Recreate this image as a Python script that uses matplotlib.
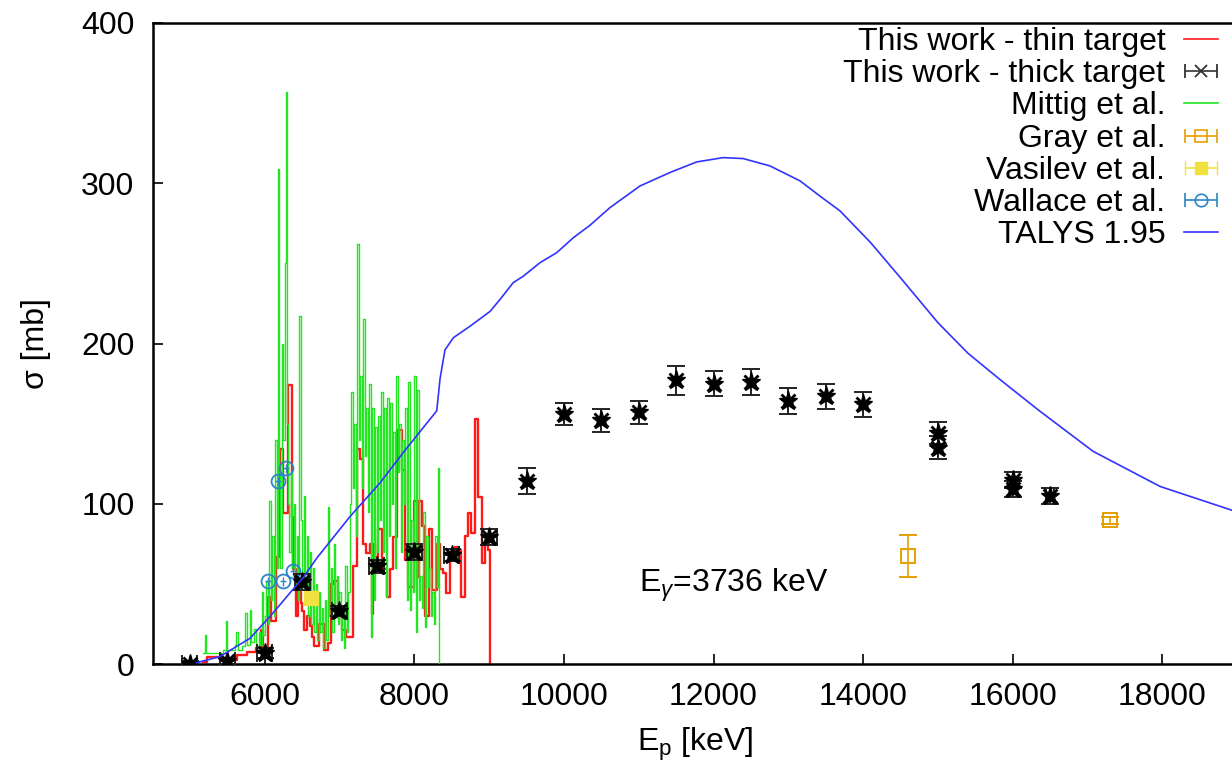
import numpy as np
import matplotlib
matplotlib.use("Agg")
import matplotlib.pyplot as plt
from matplotlib.legend_handler import HandlerErrorbar

# === Data ===
# thin target, step curve
thin_E = [5180, 5230, 5400, 5630, 5760, 5890, 5950, 5980, 6040, 6080, 6150, 6210, 6250,
          6310, 6360, 6380, 6420, 6450, 6480, 6500, 6530, 6560, 6600, 6630, 6660, 6720,
          6790, 6850, 6890, 6930, 6980, 7040, 7090, 7180, 7230, 7270, 7310, 7360, 7410,
          7430, 7450, 7475, 7520, 7565, 7630, 7675, 7720, 7765, 7830, 7875, 7920, 7990,
          8030, 8060, 8100, 8140, 8190, 8230, 8300, 8340, 8390, 8430, 8480, 8540, 8590,
          8630, 8680, 8720, 8760, 8810, 8850, 8900, 8940, 8990, 9010]
thin_s = [1.5, 4.6, 2.5, 5.6, 7.7, 10, 21, 10, 42, 27, 67, 134, 94,
          174, 92, 59, 30, 45, 38, 33, 21, 30, 24, 17, 11, 25,
          9, 13, 50, 52, 34, 21, 17, 61, 134, 128, 75, 69, 75,
          31, 75, 67, 84, 59, 42, 59, 79, 146, 121, 65, 48, 102,
          54, 102, 86, 30, 84, 46, 75, 59, 57, 44, 67, 73, 71,
          42, 80, 94, 82, 153, 104, 63, 75, 71, 0]

# thick target points
thick_E = [5000, 5500, 6000, 6500, 7000, 7500, 8000, 8500, 9000, 9500, 10000, 10500,
           11000, 11500, 12000, 12500, 13000, 13500, 14000, 15000, 15000, 16000, 16000, 16500]
thick_s = [0, 2, 7, 51, 33, 61, 70, 68, 79, 114, 156, 152,
           157, 177, 175, 176, 164, 167, 162, 144, 135, 115, 109, 105]
thick_ds = [2, 2, 3, 5, 3, 4, 5, 4, 5, 8, 7, 7,
            7, 9, 8, 8, 8, 8, 8, 7, 7, 5, 5, 5]
thick_dE = [100, 100, 100, 100, 100, 100, 100, 100, 100, 0, 0, 0,
            0, 0, 0, 0, 0, 0, 0, 0, 0, 0, 0, 50]

# Mittig et al., step curve
mittig_E = [5180, 5200, 5215, 5440, 5480, 5500, 5600, 5620, 5640, 5700, 5740, 5760,
            5800, 5820, 5860, 5880, 5920, 5940, 5960, 5980, 6000, 6020, 6040, 6060,
            6080, 6100, 6120, 6140, 6160, 6180, 6195, 6210, 6230, 6250, 6270, 6280,
            6295, 6310, 6330, 6350, 6370, 6390, 6410, 6430, 6450, 6465, 6480, 6500,
            6520, 6540, 6560, 6580, 6600, 6620, 6640, 6660, 6680, 6700, 6720, 6740,
            6760, 6780, 6800, 6820, 6840, 6860, 6880, 6900, 6920, 6940, 6960, 6980,
            7000, 7020, 7040, 7060, 7080, 7100, 7120, 7140, 7160, 7180, 7200, 7220,
            7240, 7260, 7280, 7300, 7320, 7340, 7360, 7380, 7400, 7420, 7440, 7460,
            7480, 7500, 7520, 7540, 7560, 7580, 7600, 7620, 7640, 7660, 7680, 7700,
            7720, 7740, 7760, 7780, 7800, 7820, 7840, 7860, 7880, 7900, 7920, 7940,
            7960, 7980, 8000, 8020, 8040, 8060, 8080, 8100, 8120, 8140, 8160, 8180,
            8200, 8220, 8240, 8260, 8280, 8300, 8320, 8335]
mittig_s = [7, 18, 7, 9, 27, 9, 12, 20, 9, 11, 32, 12,
            34, 14, 22, 10, 20, 12, 45, 18, 30, 52, 25, 102,
            40, 80, 30, 140, 60, 309, 120, 60, 200, 140, 250, 357,
            150, 100, 70, 120, 60, 100, 50, 80, 40, 217, 90, 50,
            105, 40, 80, 30, 70, 25, 60, 20, 50, 15, 45, 20,
            35, 10, 40, 15, 98, 30, 60, 20, 75, 35, 55, 25,
            45, 15, 35, 10, 61, 20, 45, 100, 170, 110, 150, 80,
            262, 140, 180, 110, 215, 130, 160, 95, 175, 17, 160, 40,
            148, 70, 155, 90, 170, 70, 160, 42, 166, 80, 163, 100,
            145, 60, 180, 120, 150, 70, 140, 100, 160, 40, 176, 34,
            90, 45, 180, 20, 171, 40, 55, 35, 95, 23, 80, 48,
            60, 30, 45, 25, 80, 48, 122, 0]

# Gray et al.
gray_E = [14600, 17300]
gray_s = [67.5, 89.6]
gray_ds = [13, 2]

# Vasilev et al.
vasilev_E = [6620]
vasilev_s = [41]
vasilev_ds = [3]

# Wallace et al.
wallace_E = [6050, 6180, 6240, 6290, 6374]
wallace_s = [51.5, 114, 51.5, 122, 58]
wallace_ds = [3, 3, 3, 3, 3]

# TALYS 1.95
talys_E = [5090, 5400, 5625, 5803, 6070, 6295, 6515, 6695, 7140, 7408, 7541, 7853,
           8300, 8344, 8366, 8410, 8522, 8745, 9012, 9146, 9323, 9457, 9680, 9904,
           10126, 10349, 10616, 11017, 11418, 11775, 12131, 12398, 12755, 13156, 13423,
           13690, 14100, 14500, 15000, 15400, 15830, 16365, 17075, 17970, 18940, 19000]
talys_s = [0.8, 4.6, 11, 16, 29.6, 42, 54, 66, 92, 106, 113, 132,
           158, 178, 184, 196, 203.6, 210.8, 220, 227.5, 238, 242, 250.4, 256.7,
           266, 273.8, 284.8, 298.3, 306.7, 313.3, 316, 315.4, 310.8, 301.5, 292,
           282.8, 263, 241, 213, 194, 177.5, 157.7, 132.7, 110.8, 95.8, 95]

plt.rcParams['font.family'] = ['Liberation Sans', 'DejaVu Sans']
plt.rcParams['mathtext.fontset'] = 'custom'
plt.rcParams['mathtext.rm'] = 'Liberation Sans'
plt.rcParams['mathtext.it'] = 'Liberation Sans:italic'
FS = 23

fig = plt.figure(figsize=(12.32, 7.66), dpi=100)
ax = fig.add_axes([152.5 / 1232, 102 / 766, 1084.6 / 1232, 641 / 766])

RED = '#ff1a1a'
GREEN = '#22e622'
BLUE = '#3333ff'
ORANGE = '#e69f00'
YELLOW = '#f0e040'
LBLUE = '#2a86c8'

ax.plot(thin_E, thin_s, drawstyle='steps-post', color=RED, lw=1.7, zorder=2)
ax.plot(mittig_E, mittig_s, drawstyle='steps-post', color=GREEN, lw=1.0, zorder=3)

# thick target
ax.errorbar(thick_E, thick_s, yerr=thick_ds, xerr=thick_dE, fmt='none', ecolor='#222222',
            elinewidth=1.4, capsize=6.5, capthick=1.4, zorder=6)
ax.plot(thick_E, thick_s, ls='none', marker='*', ms=14, color='k', zorder=7)
ax.plot(thick_E, thick_s, ls='none', marker='x', ms=10, mew=2, color='k', zorder=7)

ax.errorbar(gray_E, gray_s, yerr=gray_ds, fmt='s', mfc='none', mec=ORANGE, ms=10,
            mew=1.4, ecolor=ORANGE, elinewidth=1.2, capsize=6.5, capthick=1.2, zorder=5)
ax.errorbar(vasilev_E, vasilev_s, yerr=vasilev_ds, fmt='s', color=YELLOW, ms=10,
            ecolor=YELLOW, capsize=5, zorder=5)
ax.errorbar(wallace_E, wallace_s, yerr=wallace_ds, xerr=40, fmt='o', mfc='none', mec=LBLUE,
            ms=10, mew=1.3, ecolor=LBLUE, elinewidth=1.0, capsize=0, zorder=5)
ax.plot(talys_E, talys_s, color=BLUE, lw=1.2, zorder=8)

# legend proxies
nan = [np.nan]
h_thin, = ax.plot(nan, nan, color=RED, lw=1.2, label='This work - thin target')
h_thick = ax.errorbar(nan, nan, xerr=[1], fmt='x', color='#333333', ms=9, mew=1.3,
                      elinewidth=1.2, capsize=5, label='This work - thick target')
h_mit, = ax.plot(nan, nan, color=GREEN, lw=1.2, label='Mittig et al.')
h_gray = ax.errorbar(nan, nan, xerr=[1], fmt='s', mfc='none', mec=ORANGE, ms=9, mew=1.2,
                     ecolor=ORANGE, elinewidth=1.2, capsize=5, label='Gray et al.')
h_vas = ax.errorbar(nan, nan, xerr=[1], fmt='s', color=YELLOW, ms=9, ecolor=YELLOW,
                    elinewidth=1.2, capsize=5, label='Vasilev et al.')
h_wal = ax.errorbar(nan, nan, xerr=[1], fmt='o', mfc='none', mec=LBLUE, ms=9, mew=1.2,
                    ecolor=LBLUE, elinewidth=1.2, capsize=5, label='Wallace et al.')
h_tal, = ax.plot(nan, nan, color=BLUE, lw=1.2, label='TALYS 1.95')

handles = [h_thin, h_thick, h_mit, h_gray, h_vas, h_wal, h_tal]
ax.legend(handles=handles, loc='upper right', bbox_to_anchor=(1218 / 1232, 1 - 27 / 766),
          bbox_transform=fig.transFigure, frameon=False, markerfirst=False, fontsize=FS,
          handlelength=1.05, handletextpad=0.6, labelspacing=0.07, borderpad=0,
          borderaxespad=0, handler_map={type(h_thick): HandlerErrorbar(xerr_size=0.5)})

ax.text(11000, 45, r'E$_{\gamma}$=3736 keV', fontsize=FS, va='baseline')

ax.set_xlim(4500, 19000)
ax.set_ylim(0, 400)
ax.set_xticks([6000, 8000, 10000, 12000, 14000, 16000, 18000])
ax.set_yticks([0, 100, 200, 300, 400])
ax.tick_params(direction='in', length=7, width=1.2, labelsize=FS, pad=13)
for s in ['left', 'bottom', 'top']:
    ax.spines[s].set_linewidth(1.8)
ax.spines['right'].set_visible(False)

ax.set_xlabel(r'E$_{\rm p}$ [keV]', fontsize=FS, labelpad=10)
ax.set_ylabel('σ [mb]', fontsize=FS, labelpad=22)

fig.savefig('out.png', dpi=100)
